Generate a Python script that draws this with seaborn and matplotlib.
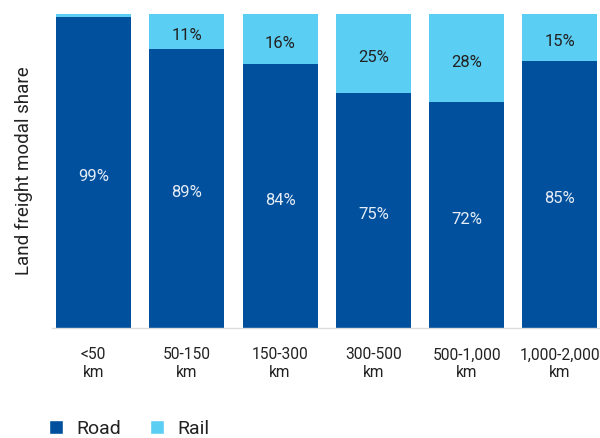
import matplotlib
matplotlib.use("Agg")
import matplotlib.pyplot as plt
import seaborn as sns
import pandas as pd
from matplotlib.patches import Patch

categories = ["<50\nkm", "50-150\nkm", "150-300\nkm", "300-500\nkm", "500-1,000\nkm", "1,000-2,000\nkm"]
road = [99, 89, 84, 75, 72, 85]
rail = [1, 11, 16, 25, 28, 15]

ROAD_C = "#00509E"
RAIL_C = "#5BCEF3"

sns.set_theme(style="white")
plt.rcParams["font.family"] = ["Roboto", "DejaVu Sans"]

df = pd.DataFrame({"cat": categories, "road": road, "rail": rail})
df["total"] = df["road"] + df["rail"]

fig = plt.figure(figsize=(6, 4.38), dpi=100)
ax = fig.add_axes([52/600, 110/438, 548/600, 314/438])

sns.barplot(data=df, x="cat", y="total", color=RAIL_C, width=0.804, ax=ax, saturation=1, edgecolor="none")
sns.barplot(data=df, x="cat", y="road", color=ROAD_C, width=0.804, ax=ax, saturation=1, edgecolor="none")

for i, (r, l) in enumerate(zip(road, rail)):
    ax.annotate(f"{r}%", (i, r / 2), xytext=(0, -3), textcoords="offset points",
                ha="center", va="center", color="#E6EDF5", fontsize=12)
    if l >= 5:
        ax.annotate(f"{l}%", (i, r + l / 2), xytext=(0, -3), textcoords="offset points",
                    ha="center", va="center", color="#222222", fontsize=12)

ax.set_xlim(-0.445, 5.43)
ax.set_ylim(0, 100)
ax.set_yticks([])
ax.set_xlabel("")
ax.set_ylabel("Land freight modal share", fontsize=13.5, color="#222222", labelpad=14)
ax.tick_params(axis="x", length=0, pad=14, labelsize=11.2, labelcolor="#222222")
for lbl in ax.get_xticklabels():
    lbl.set_linespacing(1.25)
for s in ["top", "right", "left"]:
    ax.spines[s].set_visible(False)
ax.spines["bottom"].set_color("#DDDDDD")
ax.spines["bottom"].set_linewidth(1)

handles = [Patch(facecolor=ROAD_C, label="Road"), Patch(facecolor=RAIL_C, label="Rail")]
fig.legend(handles=handles, loc="lower left", bbox_to_anchor=(0.052, -0.04), ncol=2, frameon=False,
           fontsize=14, handlelength=0.75, handleheight=0.75, columnspacing=1.5, handletextpad=0.65,
           labelcolor="#222222")

fig.savefig("out.png", dpi=100)
